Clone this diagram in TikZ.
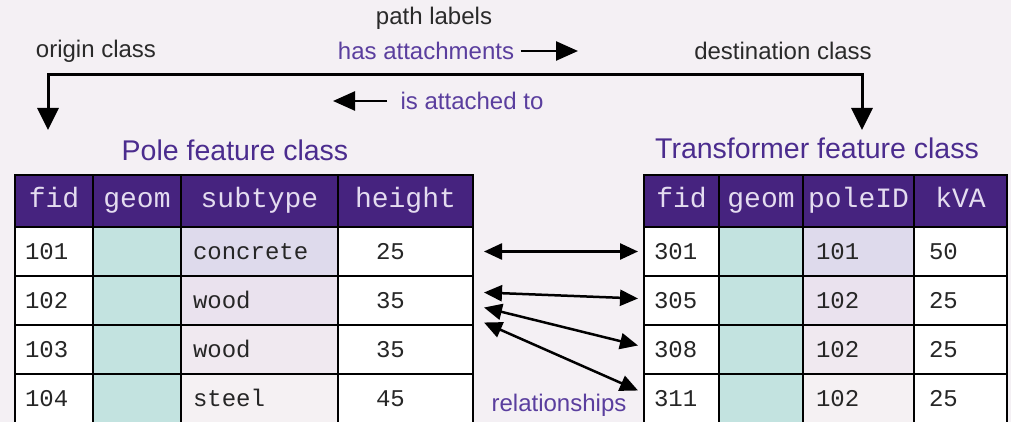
\documentclass[tikz,border=0pt]{standalone}
\usepackage{fontspec}
\setmainfont{Liberation Sans}
\newfontfamily\monofont{Liberation Mono}
\usetikzlibrary{arrows.meta}

\definecolor{bgcol}{HTML}{F4F0F4}
\definecolor{headpurple}{HTML}{46237F}
\definecolor{headtext}{HTML}{E4DCF0}
\definecolor{titlepurple}{HTML}{4B2C8E}
\definecolor{labelpurple}{HTML}{5A3E9E}
\definecolor{labeldark}{HTML}{2A2A2A}
\definecolor{celltext}{HTML}{262626}
\definecolor{geomfill}{HTML}{C3E3E0}
\definecolor{sub1}{HTML}{DEDAEC}
\definecolor{sub2}{HTML}{EAE2EE}
\definecolor{sub3}{HTML}{F0E9F0}
\definecolor{sub4}{HTML}{F5F1F3}

\tikzset{
  cell/.style={draw=black, line width=2pt, anchor=north west, minimum height=49pt,
    inner ysep=0pt, text height=16pt, text depth=0pt, align=left, text=celltext,
    font=\monofont\fontsize{24}{26}\selectfont},
  head/.style={draw=black, line width=2pt, anchor=north west, minimum height=52pt,
    inner sep=0pt, text height=17pt, text depth=4pt, fill=headpurple, text=headtext,
    font=\monofont\fontsize{28}{30}\selectfont},
  label/.style={font=\fontsize{24}{26}\selectfont, text=labeldark},
  plabel/.style={font=\fontsize{24}{26}\selectfont, text=labelpurple},
  title/.style={font=\fontsize{28.5}{30}\selectfont, text=titlepurple},
  relarr/.style={line width=2.5pt, {Triangle[length=18pt,width=16pt]}-{Triangle[length=18pt,width=16pt]}},
}

\begin{document}
\begin{tikzpicture}[x=1pt, y=-1pt]
    \def \rowh {49} % height of a table row
    \def \rowtop {226} % top of the first row

    \useasboundingbox[fill=bgcol] (0,0) rectangle (1011,422);

    % Labels at the top
    \node[label] (pathlab) at (434,18) {path labels};
    \node[plabel] (hasatt) at (426,51) {has attachments};
    \node[plabel] (isatt) at (472,101) {is attached to};
    \node[label] (origin) at (96,51) {origin class};
    \node[label] (dest) at (783,51) {destination class};

    \coordinate (hasend) at (578,51);
    \coordinate (isend) at (333,101);
    \draw[line width=2.5pt, -{Triangle[length=22pt,width=19pt]}] ([xshift=3pt]hasatt.east) -- (hasend);
    \draw[line width=2.5pt, -{Triangle[length=22pt,width=19pt]}] ([xshift=-10pt]isatt.west) -- (isend);

    % Path from origin to destination
    \coordinate (otop) at (48,75);
    \coordinate (oend) at (48,130);
    \coordinate (dtop) at (862,75);
    \coordinate (dend) at (862,130);
    \draw[line width=3pt, {Triangle[length=22pt,width=21pt]}-{Triangle[length=22pt,width=21pt]}]
      (oend) -- (otop) -- (dtop) -- (dend);

    % Titles
    \node[title] (poletitle) at (235,150) {Pole feature class};
    \node[title] (transtitle) at (817,148) {Transformer feature class};

    % Pole table
    \node[head, minimum width=78pt] (ph1) at (14,174) {fid};
    \node[head, minimum width=88pt] (ph2) at (92,174) {geom};
    \node[head, minimum width=157pt] (ph3) at (180,174) {subtype};
    \node[head, minimum width=135pt] (ph4) at (337,174) {height};
    \foreach \fid/\sub/\h [count=\i] in {101/concrete/25, 102/wood/35, 103/wood/35, 104/steel/45} {
      \node[cell, inner xsep=10pt, text width=58pt, fill=white] (p\i-fid) at (14,{\rowtop+\rowh*(\i-1)}) {\fid};
      \node[cell, inner xsep=0pt, minimum width=88pt, fill=geomfill] (p\i-geom) at (92,{\rowtop+\rowh*(\i-1)}) {};
      \node[cell, inner xsep=12pt, text width=133pt, fill=sub\i] (p\i-sub) at (180,{\rowtop+\rowh*(\i-1)}) {\sub};
      \node[cell, inner xsep=38pt, text width=59pt, fill=white] (p\i-h) at (337,{\rowtop+\rowh*(\i-1)}) {\h};
    }

    % Transformer table
    \node[head, minimum width=75pt] (th1) at (643,174) {fid};
    \node[head, minimum width=84pt] (th2) at (718,174) {geom};
    \node[head, minimum width=111pt] (th3) at (802,174) {poleID};
    \node[head, minimum width=93pt] (th4) at (913,174) {kVA};
    \foreach \fid/\pid/\kva [count=\i] in {301/101/50, 305/102/25, 308/102/25, 311/102/25} {
      \node[cell, inner xsep=10pt, text width=55pt, fill=white] (t\i-fid) at (643,{\rowtop+\rowh*(\i-1)}) {\fid};
      \node[cell, inner xsep=0pt, minimum width=84pt, fill=geomfill] (t\i-geom) at (718,{\rowtop+\rowh*(\i-1)}) {};
      \node[cell, inner xsep=13pt, text width=85pt, fill=sub\i] (t\i-pid) at (802,{\rowtop+\rowh*(\i-1)}) {\pid};
      \node[cell, inner xsep=15pt, text width=63pt, fill=white] (t\i-kva) at (913,{\rowtop+\rowh*(\i-1)}) {\kva};
    }

    % Relationships
    \draw[relarr] ([xshift=10pt]p1-h.east) -- ([xshift=-5pt]t1-fid.west);
    \draw[relarr] ([xshift=10pt,yshift=8pt]p2-h.east) -- ([xshift=-5pt,yshift=2pt]t2-fid.west);
    \draw[relarr] ([xshift=10pt,yshift=-7pt]p2-h.east) -- ([xshift=-5pt,yshift=4pt]t3-fid.west);
    \draw[relarr] ([xshift=10pt,yshift=-22pt]p2-h.east) -- ([xshift=-5pt,yshift=8pt]t4-fid.west);
    \node[plabel] (rel) at (559,405) {relationships};
\end{tikzpicture}
\end{document}
